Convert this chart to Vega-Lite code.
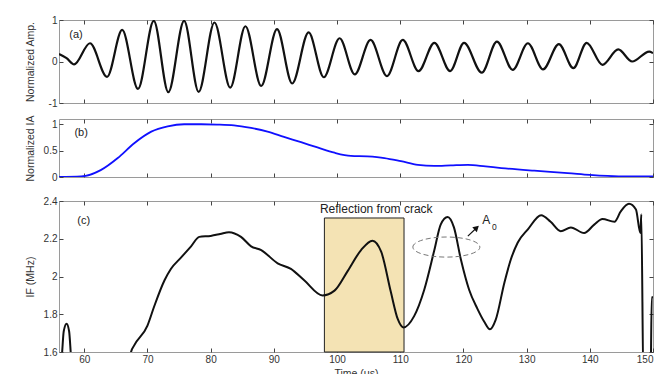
{
  "$schema": "https://vega.github.io/schema/vega-lite/v6.json",
  "padding": {"left": 24, "top": 14, "right": 5, "bottom": 0},
  "background": "white",
  "config": {
    "font": "Liberation Sans",
    "view": {"stroke": "#9a9a9a", "strokeWidth": 1},
    "axis": {
      "domain": false, "grid": false, "tickColor": "#444", "tickSize": -4, "tickWidth": 1,
      "labelFont": "Liberation Sans", "labelFontSize": 10, "labelColor": "#333", "labelPadding": 6,
      "labelExpr": "'' + datum.value",
      "titleFont": "Liberation Sans", "titleFontSize": 10.5, "titleFontWeight": "normal", "titleColor": "#333"
    }
  },
  "datasets": {
    "amp": [
      {"t": 56.0, "v": 0.18}, {"t": 57.2, "v": 0.08}, {"t": 58.4, "v": -0.07}, {"t": 60.9, "v": 0.44},
      {"t": 63.6, "v": -0.37}, {"t": 66.0, "v": 0.76}, {"t": 68.5, "v": -0.66}, {"t": 71.0, "v": 0.98},
      {"t": 73.3, "v": -0.74}, {"t": 75.8, "v": 0.98}, {"t": 78.1, "v": -0.73}, {"t": 80.6, "v": 0.94},
      {"t": 83.1, "v": -0.63}, {"t": 85.5, "v": 0.85}, {"t": 88.0, "v": -0.59}, {"t": 90.5, "v": 0.78},
      {"t": 92.9, "v": -0.53}, {"t": 95.5, "v": 0.70}, {"t": 97.9, "v": -0.38}, {"t": 100.4, "v": 0.56},
      {"t": 102.8, "v": -0.31}, {"t": 105.3, "v": 0.52}, {"t": 107.9, "v": -0.35}, {"t": 110.4, "v": 0.52},
      {"t": 112.9, "v": -0.23}, {"t": 115.4, "v": 0.45}, {"t": 117.9, "v": -0.23}, {"t": 120.1, "v": 0.45},
      {"t": 122.9, "v": -0.27}, {"t": 125.3, "v": 0.48}, {"t": 127.8, "v": -0.2}, {"t": 130.2, "v": 0.44},
      {"t": 132.6, "v": -0.19}, {"t": 135.1, "v": 0.42}, {"t": 137.4, "v": -0.16}, {"t": 139.5, "v": 0.45},
      {"t": 142.0, "v": -0.08}, {"t": 144.5, "v": 0.29}, {"t": 146.7, "v": 0.0}, {"t": 149.4, "v": 0.24},
      {"t": 150.0, "v": 0.2}
    ],
    "ia": [
      {"t": 56.0, "v": 0.0}, {"t": 59.5, "v": 0.01}, {"t": 62.6, "v": 0.13}, {"t": 65.3, "v": 0.36},
      {"t": 67.9, "v": 0.64}, {"t": 70.6, "v": 0.86}, {"t": 73.2, "v": 0.96}, {"t": 75.8, "v": 1.0},
      {"t": 78.5, "v": 1.0}, {"t": 81.0, "v": 0.995}, {"t": 83.7, "v": 0.98}, {"t": 86.4, "v": 0.93},
      {"t": 89.0, "v": 0.86}, {"t": 91.6, "v": 0.76}, {"t": 94.3, "v": 0.66}, {"t": 96.9, "v": 0.56},
      {"t": 99.6, "v": 0.46}, {"t": 102.2, "v": 0.40}, {"t": 104.8, "v": 0.39}, {"t": 107.5, "v": 0.36},
      {"t": 110.1, "v": 0.30}, {"t": 112.8, "v": 0.23}, {"t": 115.4, "v": 0.21}, {"t": 118.0, "v": 0.22},
      {"t": 120.7, "v": 0.23}, {"t": 123.5, "v": 0.20}, {"t": 126.0, "v": 0.17}, {"t": 131.2, "v": 0.12},
      {"t": 136.5, "v": 0.075}, {"t": 140.0, "v": 0.04}, {"t": 142.8, "v": 0.02}, {"t": 146.0, "v": 0.01},
      {"t": 150.0, "v": 0.01}
    ],
    "iff": [
      {"t": 56.2, "v": 1.45}, {"t": 56.5, "v": 1.6}, {"t": 56.75, "v": 1.71}, {"t": 57.2, "v": 1.75},
      {"t": 57.6, "v": 1.71}, {"t": 57.85, "v": 1.6}, {"t": 58.2, "v": 1.4}, {"t": 66.8, "v": 1.4},
      {"t": 67.4, "v": 1.6}, {"t": 67.9, "v": 1.635}, {"t": 70.0, "v": 1.74}, {"t": 71.1, "v": 1.845},
      {"t": 72.7, "v": 1.98}, {"t": 73.7, "v": 2.04}, {"t": 75.3, "v": 2.10}, {"t": 76.9, "v": 2.16},
      {"t": 78.2, "v": 2.21}, {"t": 80.0, "v": 2.215}, {"t": 81.5, "v": 2.225}, {"t": 82.9, "v": 2.235},
      {"t": 84.8, "v": 2.21}, {"t": 86.4, "v": 2.16}, {"t": 88.0, "v": 2.14}, {"t": 90.6, "v": 2.07},
      {"t": 92.7, "v": 2.04}, {"t": 94.8, "v": 1.98}, {"t": 97.7, "v": 1.90}, {"t": 99.6, "v": 1.925},
      {"t": 101.7, "v": 2.03}, {"t": 103.8, "v": 2.14}, {"t": 105.6, "v": 2.19}, {"t": 107.0, "v": 2.13},
      {"t": 108.5, "v": 1.92}, {"t": 109.6, "v": 1.775}, {"t": 110.5, "v": 1.73}, {"t": 112.2, "v": 1.79},
      {"t": 113.8, "v": 1.93}, {"t": 115.4, "v": 2.14}, {"t": 116.4, "v": 2.275}, {"t": 117.5, "v": 2.315},
      {"t": 118.5, "v": 2.26}, {"t": 119.6, "v": 2.09}, {"t": 120.9, "v": 1.93}, {"t": 122.2, "v": 1.83},
      {"t": 123.3, "v": 1.76}, {"t": 124.2, "v": 1.72}, {"t": 125.1, "v": 1.77}, {"t": 126.5, "v": 1.97},
      {"t": 127.5, "v": 2.09}, {"t": 128.6, "v": 2.18}, {"t": 130.2, "v": 2.25}, {"t": 132.3, "v": 2.325},
      {"t": 133.8, "v": 2.29}, {"t": 135.4, "v": 2.24}, {"t": 137.0, "v": 2.26}, {"t": 139.1, "v": 2.23},
      {"t": 140.7, "v": 2.275}, {"t": 142.0, "v": 2.305}, {"t": 143.9, "v": 2.29}, {"t": 144.9, "v": 2.345},
      {"t": 146.2, "v": 2.385}, {"t": 147.3, "v": 2.355}, {"t": 148.0, "v": 2.23}, {"t": 148.15, "v": 2.33},
      {"t": 148.5, "v": 1.4}, {"t": 149.6, "v": 1.4}, {"t": 149.8, "v": 1.89}, {"t": 150.0, "v": 1.89}
    ]
  },
  "vconcat": [
    {
      "spacing": 16,
      "bounds": "flush",
      "vconcat": [
        {
          "width": 594, "height": 83,
          "layer": [
            {
              "data": {"name": "amp"},
              "mark": {"type": "line", "interpolate": "monotone", "color": "#111", "strokeWidth": 2.2, "clip": true},
              "encoding": {
                "x": {"field": "t", "type": "quantitative", "scale": {"domain": [56, 150], "nice": false, "zero": false},
                      "axis": {"orient": "bottom", "values": [60, 70, 80, 90, 100, 110, 120, 130, 140, 150], "labels": false, "title": null}},
                "y": {"field": "v", "type": "quantitative", "scale": {"domain": [-1, 1], "nice": false},
                      "axis": {"orient": "left", "values": [-1, 0, 1], "title": "Normalized Amp.", "titleX": -29, "titleBaseline": "middle"}}
              }
            },
            {
              "data": {"values": [{"t": 58.7, "v": 0.64, "s": "(a)"}]},
              "mark": {"type": "text", "fontSize": 11, "color": "#222", "font": "Liberation Sans"},
              "encoding": {
                "x": {"field": "t", "type": "quantitative", "scale": {"domain": [56, 150], "nice": false, "zero": false},
                      "axis": {"orient": "top", "values": [60, 70, 80, 90, 100, 110, 120, 130, 140, 150], "labels": false, "title": null}},
                "y": {"field": "v", "type": "quantitative", "scale": {"domain": [-1, 1], "nice": false},
                      "axis": {"orient": "right", "values": [-1, 0, 1], "labels": false, "title": null}},
                "text": {"field": "s"}
              }
            }
          ],
          "resolve": {"axis": {"x": "independent", "y": "independent"}}
        },
        {
          "width": 594, "height": 58,
          "layer": [
            {
              "data": {"name": "ia"},
              "mark": {"type": "line", "interpolate": "monotone", "color": "#1010ff", "strokeWidth": 1.8, "clip": true},
              "encoding": {
                "x": {"field": "t", "type": "quantitative", "scale": {"domain": [56, 150], "nice": false, "zero": false},
                      "axis": {"orient": "bottom", "values": [60, 70, 80, 90, 100, 110, 120, 130, 140, 150], "labels": false, "title": null}},
                "y": {"field": "v", "type": "quantitative", "scale": {"domain": [0, 1.1], "nice": false},
                      "axis": {"orient": "left", "values": [0, 0.5, 1], "title": "Normalized IA", "titleX": -29, "titleBaseline": "middle"}}
              }
            },
            {
              "data": {"values": [{"t": 59.5, "v": 0.83, "s": "(b)"}]},
              "mark": {"type": "text", "fontSize": 11, "color": "#222", "font": "Liberation Sans"},
              "encoding": {
                "x": {"field": "t", "type": "quantitative", "scale": {"domain": [56, 150], "nice": false, "zero": false},
                      "axis": {"orient": "top", "values": [60, 70, 80, 90, 100, 110, 120, 130, 140, 150], "labels": false, "title": null}},
                "y": {"field": "v", "type": "quantitative", "scale": {"domain": [0, 1.1], "nice": false},
                      "axis": {"orient": "right", "values": [0, 0.5, 1], "labels": false, "title": null}},
                "text": {"field": "s"}
              }
            }
          ],
          "resolve": {"axis": {"x": "independent", "y": "independent"}}
        }
      ]
    },
    {
      "width": 594, "height": 151,
      "layer": [
        {
          "data": {"values": [{"t": 98.0, "t2": 110.6, "v": 1.6, "v2": 2.31}]},
          "mark": {"type": "rect", "fill": "#f4e3b4", "stroke": "#222", "strokeWidth": 1},
          "encoding": {
            "x": {"field": "t", "type": "quantitative", "scale": {"domain": [56, 150], "nice": false, "zero": false},
                  "axis": {"orient": "bottom", "values": [60, 70, 80, 90, 100, 110, 120, 130, 140, 150], "title": "Time (μs)", "titlePadding": 4}},
            "x2": {"field": "t2"},
            "y": {"field": "v", "type": "quantitative", "scale": {"domain": [1.6, 2.4], "nice": false, "zero": false},
                  "axis": {"orient": "left", "values": [1.6, 1.8, 2.0, 2.2, 2.4], "title": "IF (MHz)", "titleX": -29, "titleBaseline": "middle"}},
            "y2": {"field": "v2"}
          }
        },
        {
          "data": {"name": "iff"},
          "mark": {"type": "line", "interpolate": "monotone", "color": "#111", "strokeWidth": 2, "clip": true},
          "encoding": {
            "x": {"field": "t", "type": "quantitative", "axis": null},
            "y": {"field": "v", "type": "quantitative", "axis": null}
          }
        },
        {
          "data": {"values": [{"t": 117.3, "v": 2.156}]},
          "mark": {"type": "point", "shape": "M-1,0A1,0.3,0,1,1,1,0A1,0.3,0,1,1,-1,0Z", "size": 4489, "filled": false, "stroke": "#777", "strokeWidth": 1, "strokeDash": [5, 3], "opacity": 1},
          "encoding": {
            "x": {"field": "t", "type": "quantitative", "axis": null},
            "y": {"field": "v", "type": "quantitative", "axis": null}
          }
        },
        {
          "data": {"values": [{"t": 120.7, "v": 2.214, "t2": 122.1, "v2": 2.258}]},
          "mark": {"type": "rule", "color": "#111", "strokeWidth": 1.2},
          "encoding": {
            "x": {"field": "t", "type": "quantitative", "axis": null},
            "y": {"field": "v", "type": "quantitative", "axis": null},
            "x2": {"field": "t2"},
            "y2": {"field": "v2"}
          }
        },
        {
          "data": {"values": [{"t": 122.1, "v": 2.258}]},
          "mark": {"type": "point", "shape": "triangle-up", "size": 45, "filled": true, "color": "#111", "angle": 48, "opacity": 1},
          "encoding": {
            "x": {"field": "t", "type": "quantitative", "axis": null},
            "y": {"field": "v", "type": "quantitative", "axis": null}
          }
        },
        {
          "data": {"values": [
            {"t": 106.2, "v": 2.36, "s": "Reflection from crack", "fs": 12},
            {"t": 123.6, "v": 2.30, "s": "A", "fs": 12},
            {"t": 124.9, "v": 2.262, "s": "0", "fs": 8.5},
            {"t": 59.9, "v": 2.293, "s": "(c)", "fs": 11}
          ]},
          "mark": {"type": "text", "color": "#222", "font": "Liberation Sans"},
          "encoding": {
            "x": {"field": "t", "type": "quantitative", "scale": {"domain": [56, 150], "nice": false, "zero": false},
                  "axis": {"orient": "top", "values": [60, 70, 80, 90, 100, 110, 120, 130, 140, 150], "labels": false, "title": null}},
            "y": {"field": "v", "type": "quantitative", "scale": {"domain": [1.6, 2.4], "nice": false, "zero": false},
                  "axis": {"orient": "right", "values": [1.6, 1.8, 2.0, 2.2, 2.4], "labels": false, "title": null}},
            "text": {"field": "s"},
            "size": {"field": "fs", "type": "quantitative", "scale": null}
          }
        }
      ],
      "resolve": {"axis": {"x": "independent", "y": "independent"}}
    }
  ],
  "spacing": 12,
  "bounds": "full"
}
